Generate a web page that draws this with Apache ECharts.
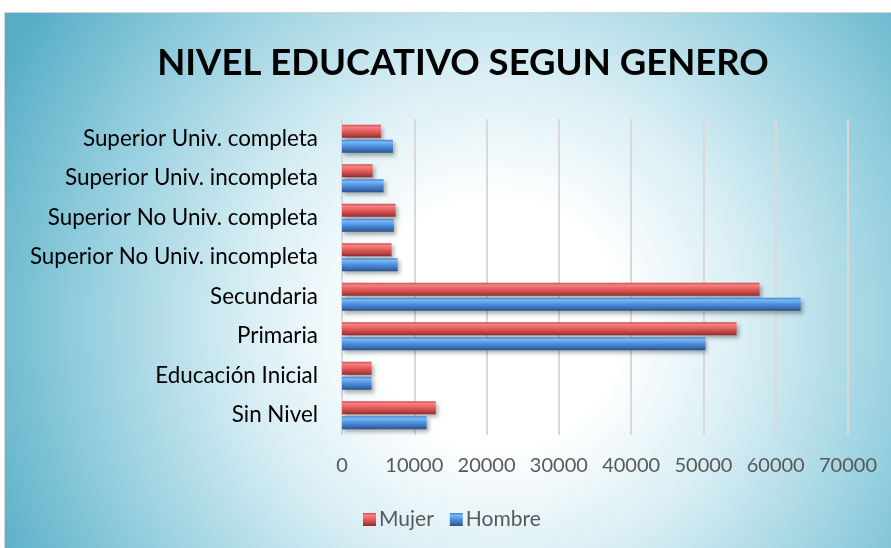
<!DOCTYPE html>
<html>
<head>
<meta charset="utf-8">
<script src="https://cdn.jsdelivr.net/npm/echarts@6/dist/echarts.min.js"></script>
<style>
  html, body { margin: 0; padding: 0; background: #ffffff; width: 891px; height: 548px; overflow: hidden; }
  #frame {
    position: absolute; left: 4px; top: 12px; width: 887px; height: 536px;
    border-left: 1px solid #d4d4d4; border-top: 1px solid #d4d4d4;
    background: radial-gradient(circle 560px at 492px 310px, #ffffff 0%, #ffffff 22%, #d8eef4 45%, #98d0df 72%, #55adc6 100%);
  }
  #chart { position: absolute; left: 0; top: 0; width: 887px; height: 536px; }
</style>
</head>
<body>
<div id="frame"><div id="chart"></div></div>
<script>
const categories = ['Sin Nivel', 'Educación Inicial', 'Primaria', 'Secundaria',
  'Superior No Univ. incompleta', 'Superior No Univ. completa',
  'Superior Univ. incompleta', 'Superior Univ. completa'];
const mujer = [12970, 4090, 54580, 57770, 6860, 7420, 4230, 5380];
const hombre = [11720, 4090, 50280, 63450, 7700, 7180, 5750, 7050];
const xTicks = [0, 10000, 20000, 30000, 40000, 50000, 60000, 70000];

const FONT = 'Lato, "Open Sans", sans-serif';

function grad(c0, c1, c2, c3, c4) {
  return new echarts.graphic.LinearGradient(0, 0, 0, 1, [
    { offset: 0, color: c0 }, { offset: 0.18, color: c1 },
    { offset: 0.5, color: c2 }, { offset: 0.8, color: c3 }, { offset: 1, color: c4 }
  ]);
}
const redFill = grad('#d24a4a', '#f58282', '#e35b5b', '#b94141', '#8c2a2a');
const blueFill = grad('#3f7fcc', '#79b8f5', '#4d8fdc', '#3a6eb4', '#284f85');

const chart = echarts.init(document.getElementById('chart'), null, { renderer: 'canvas' });
chart.setOption({
  backgroundColor: 'transparent',
  animation: false,
  title: {
    text: 'NIVEL EDUCATIVO SEGUN GENERO',
    left: 453, top: 27, textAlign: 'center',
    textStyle: { fontFamily: FONT, fontWeight: 'bold', fontSize: 36.5, color: '#000000' }
  },
  legend: {
    data: ['Mujer', 'Hombre'],
    left: 353, top: 491,
    itemWidth: 13, itemHeight: 13, itemGap: 16,
    icon: 'rect',
    textStyle: { fontFamily: FONT, fontSize: 21, color: '#595959', padding: [0, 0, 0, -2] }
  },
  grid: { left: 337, right: 44, top: 106, bottom: 114, containLabel: false },
  xAxis: {
    type: 'value', min: xTicks[0], max: xTicks[xTicks.length - 1], interval: 10000,
    axisLine: { show: false }, axisTick: { show: false },
    splitLine: { show: true, lineStyle: { color: '#d9d9d9', width: 2 } },
    axisLabel: { fontFamily: FONT, fontSize: 20, color: '#595959', margin: 21,
      formatter: v => xTicks.includes(v) ? String(v) : '' }
  },
  yAxis: {
    type: 'category', data: categories,
    axisLine: { show: false }, axisTick: { show: false },
    axisLabel: { fontFamily: FONT, fontSize: 22.4, color: '#000000', margin: 24 }
  },
  series: [
    {
      name: 'Mujer', type: 'bar', data: mujer, barWidth: 13, barGap: '15%',
      itemStyle: { color: redFill, shadowColor: 'rgba(0,0,0,0.3)', shadowBlur: 4, shadowOffsetX: 2, shadowOffsetY: 3 }
    },
    {
      name: 'Hombre', type: 'bar', data: hombre, barWidth: 13, barGap: '15%',
      itemStyle: { color: blueFill, shadowColor: 'rgba(0,0,0,0.3)', shadowBlur: 4, shadowOffsetX: 2, shadowOffsetY: 3 }
    }
  ]
});
</script>
</body>
</html>
